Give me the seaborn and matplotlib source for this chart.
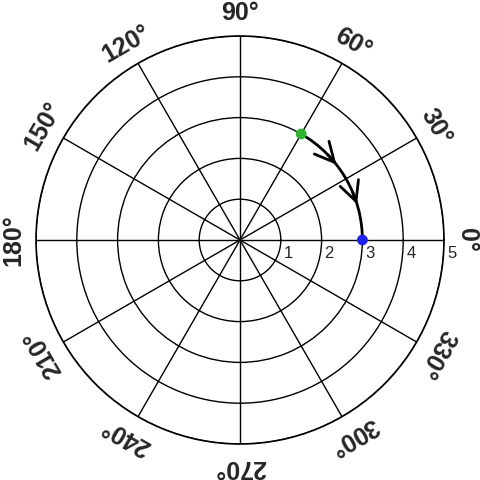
import matplotlib
matplotlib.use("Agg")
import matplotlib.pyplot as plt
import seaborn as sns
import numpy as np
import pandas as pd

# angular grid (degrees) and labels
angle_ticks = [0, 30, 60, 90, 120, 150, 180, 210, 240, 270, 300, 330]
angle_labels = [f"{a}°" for a in angle_ticks]

# radial grid
radial_ticks = [1, 2, 3, 4, 5]
radial_labels = ["1", "2", "3", "4", "5"]

# path from start point to end point at constant radius
arc_deg = [60, 0]
arc_r = [3, 3]
arrow_deg = [38, 17]

start_deg, start_r = 60, 3
end_deg, end_r = 0, 3

sns.set_style("white")
plt.rcParams["font.family"] = ["Liberation Sans", "DejaVu Sans"]

fig = plt.figure(figsize=(4.8, 4.8), dpi=100)
ax = fig.add_axes([0.075, 0.075, 0.85, 0.85], projection="polar")

arc = pd.DataFrame({"theta": np.deg2rad(arc_deg), "r": arc_r})
sns.lineplot(data=arc, x="theta", y="r", ax=ax, sort=False, color="black", lw=2)
# let the polar transform bend the segment into an arc
ax.lines[-1].get_path()._interpolation_steps = 100

for a in arrow_deg:
    ax.annotate("", xy=(np.deg2rad(a), 3), xytext=(np.deg2rad(a + 6), 3),
                arrowprops=dict(arrowstyle="->,head_length=0.7,head_width=0.35",
                                lw=2, color="black", shrinkA=0, shrinkB=0,
                                mutation_scale=20))

sns.scatterplot(x=[np.deg2rad(start_deg)], y=[start_r], ax=ax, color="#2fb52f",
                s=60, edgecolor="none", zorder=5)
sns.scatterplot(x=[np.deg2rad(end_deg)], y=[end_r], ax=ax, color="#2020f0",
                s=60, edgecolor="none", zorder=5)

ax.set_ylim(0, 5)
ax.set_yticks(radial_ticks)
ax.set_yticklabels([])
ax.set_xticks(np.deg2rad(angle_ticks))
ax.set_xticklabels([])
ax.set_xlabel("")
ax.set_ylabel("")
ax.grid(True, color="black", lw=1)
ax.spines["polar"].set_color("black")
ax.spines["polar"].set_linewidth(1.2)

for a, lab in zip(angle_ticks, angle_labels):
    ax.text(np.deg2rad(a), 5.56, lab, rotation=a - 90, rotation_mode="anchor",
            ha="center", va="center", fontsize=18, fontweight="bold", clip_on=False)

for r, lab in zip(radial_ticks, radial_labels):
    ax.annotate(lab, xy=(0, r), xytext=(3, -6), textcoords="offset pixels",
                ha="left", va="top", fontsize=12, annotation_clip=False)

fig.savefig("out.png", dpi=100)
